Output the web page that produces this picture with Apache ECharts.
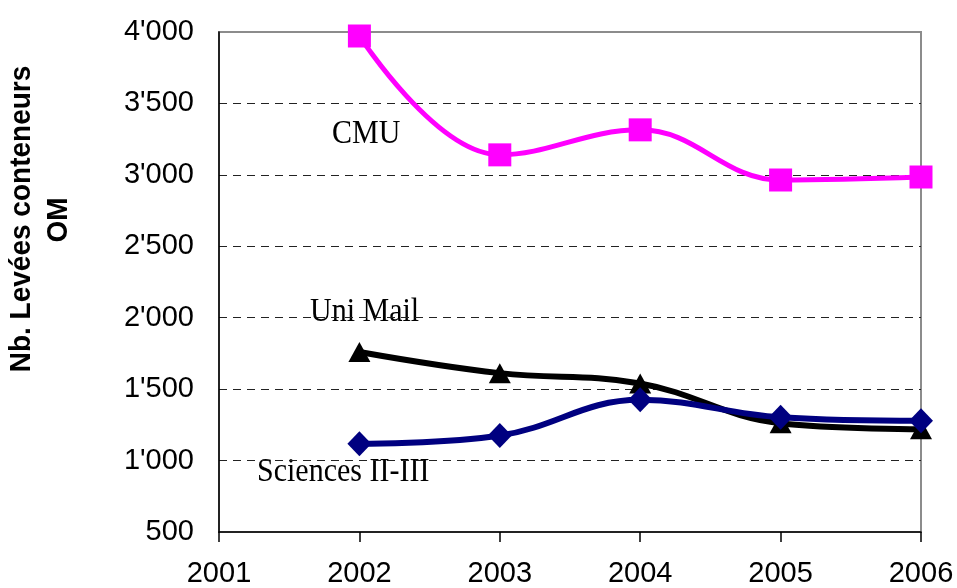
<!DOCTYPE html>
<html>
<head>
<meta charset="utf-8">
<script src="https://cdn.jsdelivr.net/npm/echarts@6/dist/echarts.min.js"></script>
<style>
  html, body { margin: 0; padding: 0; background: #fff; }
  #chart { width: 957px; height: 588px; }
</style>
</head>
<body>
<div id="chart"></div>
<script>
// données
const years = [2002, 2003, 2004, 2005, 2006];
const cmu = [3972, 3140, 3315, 2964, 2985];
const uniMail = [1760, 1612, 1540, 1262, 1220];
const sciences = [1117, 1175, 1425, 1303, 1278];
const seriesNames = ["CMU", "Uni Mail", "Sciences II-III"];

const myChart = echarts.init(document.getElementById("chart"));

const toPairs = (vals) => years.map((y, i) => [y, vals[i]]);
const fmtThousands = (v) => {
  if (v < 1000) return String(v);
  const s = String(v);
  return s.slice(0, s.length - 3) + "'" + s.slice(-3);
};

const labelFont = {
  fontFamily: "Liberation Serif",
  fontSize: 30,
  fill: "#000",
  verticalAlign: "middle",
};
const titleFont = {
  fontFamily: "Liberation Sans",
  fontWeight: "bold",
  fontSize: 28,
  fill: "#000",
  align: "center",
  verticalAlign: "middle",
};

var option = {
  animation: false,
  backgroundColor: "#fff",
  grid: {
    left: 219,
    right: 36,
    top: 32,
    bottom: 56,
    show: true,
    borderColor: "#8c8c8c",
    borderWidth: 2,
  },
  xAxis: {
    type: "value",
    min: 2001,
    max: 2006,
    interval: 1,
    axisLine: { show: true, lineStyle: { color: "#000", width: 1.5 } },
    axisTick: { show: true, length: 10, lineStyle: { color: "#000", width: 1.5 } },
    axisLabel: {
      margin: 27,
      fontFamily: "Liberation Sans",
      fontSize: 29,
      color: "#000",
      formatter: (v) => String(v),
    },
    splitLine: { show: false },
  },
  yAxis: {
    type: "value",
    min: 500,
    max: 4000,
    interval: 500,
    axisLine: { show: true, lineStyle: { color: "#000", width: 1.5 } },
    axisTick: { show: false },
    axisLabel: {
      margin: 25,
      fontFamily: "Liberation Sans",
      fontSize: 29,
      color: "#000",
      formatter: fmtThousands,
    },
    splitLine: {
      show: true,
      showMinLine: false,
      showMaxLine: false,
      lineStyle: { color: "#222", width: 1, type: [8, 6] },
    },
  },
  graphic: [
    {
      type: "text",
      x: 22,
      y: 219,
      rotation: Math.PI / 2,
      scaleX: 1,
      scaleY: 1.08,
      style: Object.assign({ text: "Nb. Levées conteneurs" }, titleFont),
    },
    {
      type: "text",
      x: 59,
      y: 220,
      rotation: Math.PI / 2,
      scaleY: 1.08,
      style: Object.assign({ text: "OM" }, titleFont),
    },
    { type: "text", x: 332, y: 134, scaleY: 1.1, style: Object.assign({ text: seriesNames[0] }, labelFont) },
    { type: "text", x: 310, y: 312, scaleY: 1.1, style: Object.assign({ text: seriesNames[1] }, labelFont) },
    { type: "text", x: 257, y: 472, scaleY: 1.1, style: Object.assign({ text: seriesNames[2] }, labelFont) },
  ],
  series: [
    {
      name: seriesNames[0],
      type: "line",
      data: toPairs(cmu),
      smooth: 0.4,
      symbol: "rect",
      symbolSize: 23,
      color: "#ff00ff",
      lineStyle: { width: 5, color: "#ff00ff" },
      itemStyle: { color: "#ff00ff" },
      z: 2,
    },
    {
      name: seriesNames[1],
      type: "line",
      data: toPairs(uniMail),
      smooth: 0.4,
      symbol: "triangle",
      symbolSize: [22, 20],
      color: "#000",
      lineStyle: { width: 6, color: "#000" },
      itemStyle: { color: "#000" },
      z: 3,
    },
    {
      name: seriesNames[2],
      type: "line",
      data: toPairs(sciences),
      smooth: 0.4,
      symbol: "diamond",
      symbolSize: [24, 25],
      color: "#000080",
      lineStyle: { width: 6, color: "#000080" },
      itemStyle: { color: "#000080" },
      z: 4,
    },
  ],
};

myChart.setOption(option);
</script>
</body>
</html>
